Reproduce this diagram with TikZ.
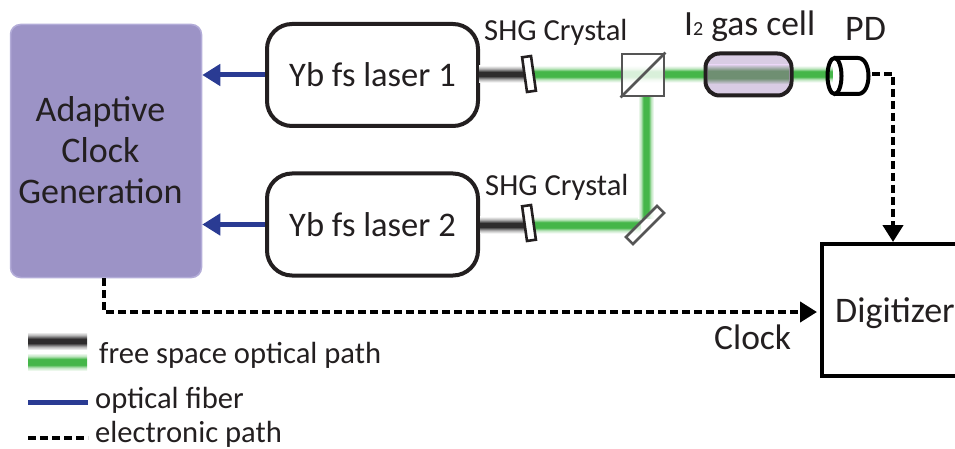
\documentclass[tikz,border=0pt]{standalone}
\usepackage{fontspec}
\setmainfont{Carlito}
\usetikzlibrary{calc,arrows.meta}
\definecolor{fibre}{HTML}{2A3B93}
\definecolor{clockfill}{HTML}{9C93C6}
\definecolor{clockedge}{HTML}{B3ACD8}
\definecolor{beamgreen}{HTML}{45B649}
\definecolor{beamdark}{HTML}{2E2C2D}
\definecolor{cellfill}{HTML}{D9CCE4}
\definecolor{cellbeam}{HTML}{6F8F72}
\definecolor{optgray}{HTML}{555555}
\definecolor{inkblack}{HTML}{231F20}
\pgfdeclareverticalshading{greenglow}{100bp}{color(0bp)=(white); color(25bp)=(white); color(34bp)=(beamgreen!35); color(42bp)=(beamgreen); color(58bp)=(beamgreen); color(66bp)=(beamgreen!35); color(75bp)=(white); color(100bp)=(white)}
\pgfdeclareverticalshading{darkglow}{100bp}{color(0bp)=(white); color(25bp)=(white); color(34bp)=(beamdark!35); color(44bp)=(beamdark); color(56bp)=(beamdark); color(66bp)=(beamdark!35); color(75bp)=(white); color(100bp)=(white)}
\pgfdeclareverticalshading{cellglow}{100bp}{color(0bp)=(cellfill); color(25bp)=(cellfill); color(40bp)=(cellbeam); color(60bp)=(cellbeam); color(75bp)=(cellfill); color(100bp)=(cellfill)}
\tikzset{
  laser/.style={draw=inkblack, line width=4pt, rounded corners=25pt, minimum width=211pt, minimum height=102pt, inner sep=0pt, font=\fontsize{34.5}{40}\selectfont, text=inkblack},
  fsize/.style={font=\fontsize{36}{41}\selectfont, text=inkblack},
  small/.style={font=\fontsize{30.6}{34}\selectfont, text=inkblack},
  fiber/.style={draw=fibre, line width=5pt, -{Triangle[length=18pt,width=21pt]}},
  elec/.style={draw=black, line width=4.5pt, dash pattern=on 8pt off 4pt},
  elecarrow/.style={elec, -{Triangle[length=17pt,width=20pt]}},
  greenbeam/.style={shade, shading=greenglow, draw=none, inner sep=0pt},
  darkbeam/.style={shade, shading=darkglow, draw=none, inner sep=0pt},
  crystal/.style={draw=inkblack, fill=white, line width=2.6pt, minimum width=9pt, minimum height=35pt, inner sep=0pt, rotate=8}
}
\begin{document}
\begin{tikzpicture}[x=1pt,y=-1pt]
\useasboundingbox (0,0) rectangle (955,449);

% clock box and lasers
\node [draw=clockedge, fill=clockfill, line width=1.5pt, rounded corners=10pt, minimum width=191pt, minimum height=253pt, inner sep=0pt] (acg) at (106,151) {};
\node [fsize, align=center, inner sep=0pt] (acgt) at (100.5,150) {Adaptive\\Clock\\Generation};
\node [laser] (l1) at (372.5,75) {Yb fs laser 1};
\node [laser] (l2) at (372.5,224.5) {Yb fs laser 2};

% beams
\node [darkbeam, minimum width=48pt, minimum height=17pt] (d1) at (503,74) {};
\node [darkbeam, minimum width=48pt, minimum height=17pt] (d2) at (504,225) {};
\node [greenbeam, minimum width=305pt, minimum height=17pt] (g1) at (680,74) {};
\node [greenbeam, minimum width=112pt, minimum height=17pt] (g2) at (585,225) {};
\shade [shading=greenglow, shading angle=90] (638,97) rectangle (654,218);

% crystals and mirror
\node [crystal] (c1) at (529,74) {};
\node [crystal] (c2) at (529,223) {};
\node [draw=optgray, fill=white, fill opacity=0.75, line width=2.6pt, minimum width=44pt, minimum height=10pt, inner sep=0pt, rotate=45] (mir) at (645,225) {};

% beam splitter
\node [draw=optgray, fill=white, fill opacity=0.8, line width=2.8pt, minimum size=42pt, inner sep=0pt] (bs) at (643,75) {};
\draw [optgray, line width=2.8pt] (bs.south west) -- (bs.north east);

% gas cell
\node [draw=inkblack, fill=cellfill, line width=4pt, rounded corners=14pt, minimum width=86pt, minimum height=42pt, inner sep=0pt] (cell) at (748.5,74.5) {};
\shade [shading=cellglow] (708,65) rectangle (789,84);

% detector
\fill [white] (836,58) rectangle (862,94);
\draw [black, line width=4pt] (834.5,58) -- (858,58) .. controls (872,58) and (872,94) .. (858,94) -- (834.5,94);
\draw [black, line width=4pt] (834.5,76) ellipse [x radius=7pt, y radius=18pt];
\coordinate (pdout) at (872,74);
\coordinate (bend) at (893,74);
\coordinate (ctop) at (104,278);
\coordinate (cbend) at (104,312);

% digitizer
\node [draw=black, line width=4pt, minimum width=140pt, minimum height=132pt, inner sep=0pt] (dig) at (892,310) {};
\node [fsize, anchor=base west, inner sep=0pt] (digt) at (835,322) {Digitizer};

% connections
\draw [fiber] (l1.west) -- (l1.west -| acg.east);
\draw [fiber] (l2.west) -- (l2.west -| acg.east);
\draw [elecarrow] (pdout) -- (bend) -- (bend |- dig.north);
\draw [elecarrow, shorten >=3pt] (ctop) -- (cbend) -- (cbend -| dig.west);

% labels
\node [small, anchor=base west, inner sep=0pt] (shg1) at (484,41) {SHG Crystal};
\node [small, anchor=base west, inner sep=0pt] (shg2) at (485,196) {SHG Crystal};
\node [anchor=base west, inner sep=0pt, text=inkblack, font=\fontsize{35.5}{40}\selectfont] (gas) at (684,36) {I{\fontsize{20}{20}\selectfont 2} gas cell};
\node [anchor=base west, inner sep=0pt, text=inkblack, font=\fontsize{36}{40}\selectfont] (pd) at (845,41) {PD};
\node [anchor=base west, inner sep=0pt, text=inkblack, font=\fontsize{35.5}{40}\selectfont] (clk) at (714,349) {Clock};

% legend
\node [darkbeam, minimum width=59pt, minimum height=18pt] (ld) at (57.5,341) {};
\node [greenbeam, minimum width=59pt, minimum height=18pt] (lg) at (57.5,362) {};
\node [small, anchor=base west, inner sep=0pt] (lt1) at (99,363) {free space optical path};
\coordinate (lb1) at (28,402);
\coordinate (lb2) at (88,402);
\draw [fibre, line width=5pt] (lb1) -- (lb2);
\node [small, anchor=base west, inner sep=0pt] (lt2) at (95,408) {optical fiber};
\coordinate (le1) at (28,438);
\coordinate (le2) at (88,438);
\draw [elec] (le1) -- (le2);
\node [small, anchor=base west, inner sep=0pt] (lt3) at (95,442) {electronic path};
\end{tikzpicture}
\end{document}
